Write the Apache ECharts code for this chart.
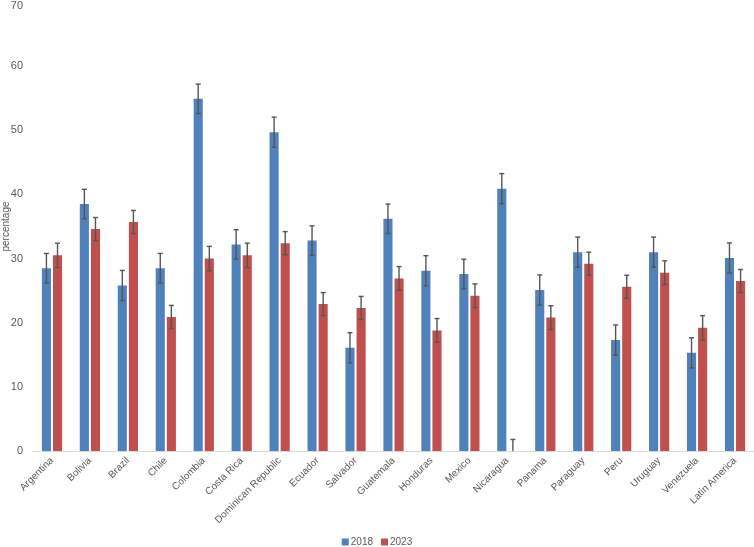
<!DOCTYPE html>
<html><head><meta charset="utf-8">
<script src="https://cdn.jsdelivr.net/npm/echarts@6/dist/echarts.min.js"></script>
<style>html,body{margin:0;padding:0;background:#fff}#c{width:754px;height:547px}</style>
</head><body><div id="c"></div>
<script>
var categories = ["Argentina","Bolivia","Brazil","Chile","Colombia","Costa Rica","Dominican Republic","Ecuador","Salvador","Guatemala","Honduras","Mexico","Nicaragua","Panama","Paraguay","Peru","Uruguay","Venezuela","Latin America"];
var values2018 = [28.5,38.5,25.8,28.5,54.9,32.2,49.7,32.8,16.1,36.2,28.1,27.6,40.9,25.1,31.0,17.3,31.0,15.3,30.1];
var values2023 = [30.5,34.6,35.7,20.9,30.0,30.5,32.4,22.9,22.3,26.9,18.8,24.2,0,20.8,29.2,25.6,27.8,19.2,26.5];
var err2018 = [2.3,2.3,2.35,2.3,2.3,2.3,2.35,2.3,2.35,2.3,2.35,2.3,2.35,2.35,2.35,2.35,2.35,2.35,2.35];
var err2023 = [1.9,1.8,1.8,1.8,1.9,1.9,1.8,1.8,1.8,1.85,1.85,1.85,1.8,1.85,1.8,1.8,1.85,1.9,1.8];
var yTicks = {min:0, max:70, interval:10};

var BW = 0.24, GAP = 0.22;
function errSeries(vals, errs, sign){
  return {
    type:'custom', silent:true, z:5,
    data: vals.map(function(v,i){return [i, v, errs[i]];}),
    renderItem: function(params, api){
      var i = api.value(0), v = api.value(1), e = api.value(2);
      var band = api.size([1,0])[0];
      var off = sign * band * (BW + BW*GAP) / 2;
      var lo = Math.max(0, v - e), hi = v + e;
      var pHi = api.coord([i, hi]), pLo = api.coord([i, lo]);
      var x = pHi[0] + off, cw = 2.5;
      var st = {stroke:'#555555', lineWidth:1.4};
      var ch = [
        {type:'line', shape:{x1:x,y1:pHi[1],x2:x,y2:pLo[1]}, style:st},
        {type:'line', shape:{x1:x-cw,y1:pHi[1],x2:x+cw,y2:pHi[1]}, style:st}
      ];
      if (v - e > 0) ch.push({type:'line', shape:{x1:x-cw,y1:pLo[1],x2:x+cw,y2:pLo[1]}, style:st});
      return {type:'group', children:ch};
    }
  };
}

var chart = echarts.init(document.getElementById('c'), null, {renderer:'canvas'});
chart.setOption({
  animation:false,
  textStyle:{fontFamily:'Liberation Sans, Arial, sans-serif'},
  grid:{left:33, right:0, top:2, bottom:96, containLabel:false, outerBoundsMode:'none'},
  legend:{
    top:537, left:'center', itemWidth:7, itemHeight:7, itemGap:8, padding:0,
    icon:'rect',
    textStyle:{color:'#595959', fontSize:10, padding:[0,0,0,-3]},
    data:['2018','2023']
  },
  xAxis:{
    type:'category', data:categories,
    axisLine:{lineStyle:{color:'#d9d9d9'}},
    axisTick:{show:false},
    axisLabel:{rotate:45, interval:0, color:'#595959', fontSize:10, margin:8}
  },
  yAxis:{
    type:'value', min:yTicks.min, max:yTicks.max, interval:yTicks.interval,
    name:'percentage', nameLocation:'middle', nameGap:22, nameRotate:90,
    nameMoveOverlap:false,
    nameTextStyle:{color:'#595959', fontSize:10},
    splitLine:{show:false},
    axisLine:{show:false}, axisTick:{show:false},
    axisLabel:{color:'#595959', fontSize:11, margin:10,
      formatter:function(v){ return v === yTicks.max ? '{t|' + v + '}' : String(v); },
      rich:{t:{padding:[8,0,0,0], fontSize:11, color:'#595959'}}
    }
  },
  series:[
    {name:'2018', type:'bar', data:values2018, barWidth:(BW*100)+'%', barGap:(GAP*100)+'%',
     itemStyle:{color:'#4f81bd'}},
    {name:'2023', type:'bar', data:values2023, barWidth:(BW*100)+'%',
     itemStyle:{color:'#c0504d'}},
    errSeries(values2018, err2018, -1),
    errSeries(values2023, err2023, 1)
  ]
});
</script></body></html>
